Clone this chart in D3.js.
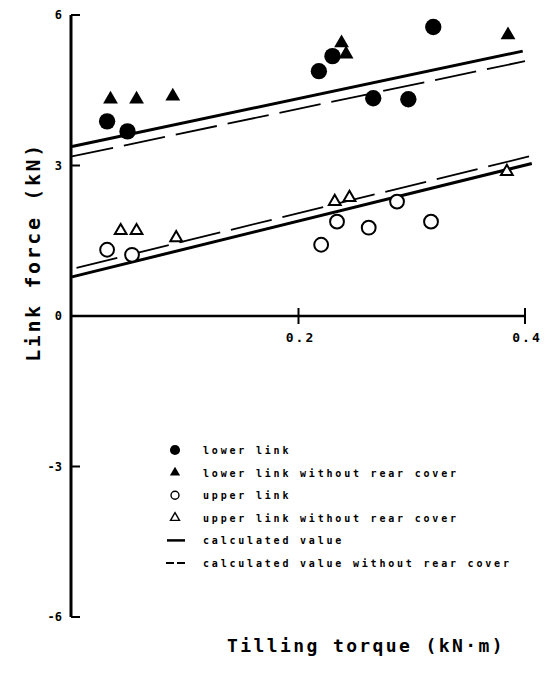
<!DOCTYPE html>
<html>
<head>
<meta charset="utf-8">
<script src="https://cdn.jsdelivr.net/npm/d3@7"></script>
<style>
  body { margin: 0; background: #fff; }
  svg text { font-family: "DejaVu Sans Mono", "Liberation Mono", monospace; font-weight: bold; fill: #000; }
</style>
</head>
<body>
<div id="chart"></div>
<script>
var width = 553;
var height = 674;

// measured data (tilling torque kN·m, link force kN)
var lowerLink = [[0.031, 3.88], [0.049, 3.68], [0.218, 4.88], [0.230, 5.18], [0.266, 4.34], [0.297, 4.32], [0.319, 5.76]];
var lowerLinkNoCover = [[0.034, 4.32], [0.057, 4.32], [0.089, 4.38], [0.238, 5.44], [0.242, 5.22], [0.385, 5.60]];
var upperLink = [[0.031, 1.32], [0.053, 1.22], [0.220, 1.42], [0.234, 1.88], [0.262, 1.76], [0.287, 2.28], [0.317, 1.88]];
var upperLinkNoCover = [[0.043, 1.70], [0.057, 1.70], [0.092, 1.56], [0.232, 2.28], [0.245, 2.36], [0.384, 2.88]];

var calcLower = [[0, 3.38], [0.398, 5.28]];
var calcLowerNoCover = [[0, 3.18], [0.400, 5.08]];
var calcUpper = [[0, 0.78], [0.406, 3.04]];
var calcUpperNoCover = [[0.004, 0.96], [0.407, 3.20]];

var yTicks = [6, 3, 0, -3, -6];
var xTicks = [0.2, 0.4];
var legendLabels = ["lower link", "lower link without rear cover", "upper link",
                    "upper link without rear cover", "calculated value",
                    "calculated value without rear cover"];

var svg = d3.select("#chart").append("svg")
  .attr("width", width)
  .attr("height", height);

var xScale = d3.scaleLinear().domain([0, 0.4]).range([72, 525]);
var yScale = d3.scaleLinear().domain([-6, 6]).range([617, 15]);

// y axis
svg.append("line")
  .attr("x1", 71).attr("x2", 71)
  .attr("y1", yScale(6)).attr("y2", yScale(-6))
  .attr("stroke", "black").attr("stroke-width", 3);

svg.selectAll(".ytick")
  .data(yTicks.filter(function(d) { return d != 0; }))
  .enter().append("line")
  .attr("x1", 71).attr("x2", 80)
  .attr("y1", function(d) { return yScale(d); })
  .attr("y2", function(d) { return yScale(d); })
  .attr("stroke", "black").attr("stroke-width", 2);

svg.selectAll(".ylabel")
  .data(yTicks)
  .enter().append("text")
  .attr("x", 62)
  .attr("y", function(d) { return yScale(d) + 4; })
  .attr("text-anchor", "end")
  .style("font-size", "12px")
  .text(function(d) { return d; });

// x axis at y = 0
svg.append("line")
  .attr("x1", xScale(0)).attr("x2", xScale(0.4))
  .attr("y1", yScale(0)).attr("y2", yScale(0))
  .attr("stroke", "black").attr("stroke-width", 2.5);

svg.selectAll(".xtick")
  .data(xTicks)
  .enter().append("line")
  .attr("x1", function(d) { return xScale(d); })
  .attr("x2", function(d) { return xScale(d); })
  .attr("y1", yScale(0) - 8).attr("y2", yScale(0) + 8)
  .attr("stroke", "black").attr("stroke-width", 2);

svg.selectAll(".xlabel")
  .data(xTicks)
  .enter().append("text")
  .attr("x", function(d) { return xScale(d) + 2; })
  .attr("y", yScale(0) + 26)
  .attr("text-anchor", "middle")
  .style("font-size", "13px")
  .style("letter-spacing", "2px")
  .text(function(d) { return d.toFixed(1); });

// axis titles
svg.append("text")
  .attr("transform", "translate(33," + 252 + ") rotate(-90)")
  .attr("text-anchor", "middle")
  .attr("dy", "0.35em")
  .style("font-size", "20px")
  .style("letter-spacing", "2.6px")
  .text("Link force (kN)");

svg.append("text")
  .attr("x", 366)
  .attr("y", 652)
  .attr("text-anchor", "middle")
  .style("font-size", "18px")
  .style("letter-spacing", "2.4px")
  .text("Tilling torque (kN\u00b7m)");

// calculated lines
var line = d3.line()
  .x(function(d) { return xScale(d[0]); })
  .y(function(d) { return yScale(d[1]); });

[calcLower, calcUpper].forEach(function(s) {
  svg.append("path").attr("d", line(s))
    .attr("fill", "none").attr("stroke", "black").attr("stroke-width", 3);
});
[calcLowerNoCover, calcUpperNoCover].forEach(function(s) {
  svg.append("path").attr("d", line(s))
    .attr("fill", "none").attr("stroke", "black").attr("stroke-width", 1.8)
    .attr("stroke-dasharray", "42,11");
});

// markers
var circle = d3.symbol().type(d3.symbolCircle);
var tri = d3.symbol().type(d3.symbolTriangle);

function drawPoints(data, gen, size, filled) {
  svg.append("g").selectAll("path")
    .data(data)
    .enter().append("path")
    .attr("transform", function(d) { return "translate(" + xScale(d[0]) + "," + yScale(d[1]) + ")"; })
    .attr("d", gen.size(size)())
    .attr("fill", filled ? "black" : "white")
    .attr("stroke", "black")
    .attr("stroke-width", filled ? 0 : 2);
}

drawPoints(upperLink, circle, 150, false);
drawPoints(upperLinkNoCover, tri, 60, false);
drawPoints(lowerLink, circle, 210, true);
drawPoints(lowerLinkNoCover, tri, 95, true);

// legend
var legendY = d3.scalePoint().domain(legendLabels).range([450, 563]);
var lg = svg.append("g");

lg.selectAll("text")
  .data(legendLabels)
  .enter().append("text")
  .attr("x", 203)
  .attr("y", function(d) { return legendY(d) + 4; })
  .style("font-size", "10px")
  .style("letter-spacing", "2.8px")
  .text(function(d) { return d; });

var lx = 175;
lg.append("path").attr("transform", "translate(" + lx + "," + legendY(legendLabels[0]) + ")")
  .attr("d", circle.size(80)()).attr("fill", "black");
lg.append("path").attr("transform", "translate(" + lx + "," + legendY(legendLabels[1]) + ")")
  .attr("d", tri.size(45)()).attr("fill", "black");
lg.append("path").attr("transform", "translate(" + lx + "," + legendY(legendLabels[2]) + ")")
  .attr("d", circle.size(50)()).attr("fill", "white").attr("stroke", "black").attr("stroke-width", 1.4);
lg.append("path").attr("transform", "translate(" + lx + "," + legendY(legendLabels[3]) + ")")
  .attr("d", tri.size(35)()).attr("fill", "white").attr("stroke", "black").attr("stroke-width", 1.4);
lg.append("line")
  .attr("x1", 167).attr("x2", 185)
  .attr("y1", legendY(legendLabels[4])).attr("y2", legendY(legendLabels[4]))
  .attr("stroke", "black").attr("stroke-width", 2.5);
lg.append("line")
  .attr("x1", 166).attr("x2", 186)
  .attr("y1", legendY(legendLabels[5])).attr("y2", legendY(legendLabels[5]))
  .attr("stroke", "black").attr("stroke-width", 2)
  .attr("stroke-dasharray", "8,3");
</script>
</body>
</html>
